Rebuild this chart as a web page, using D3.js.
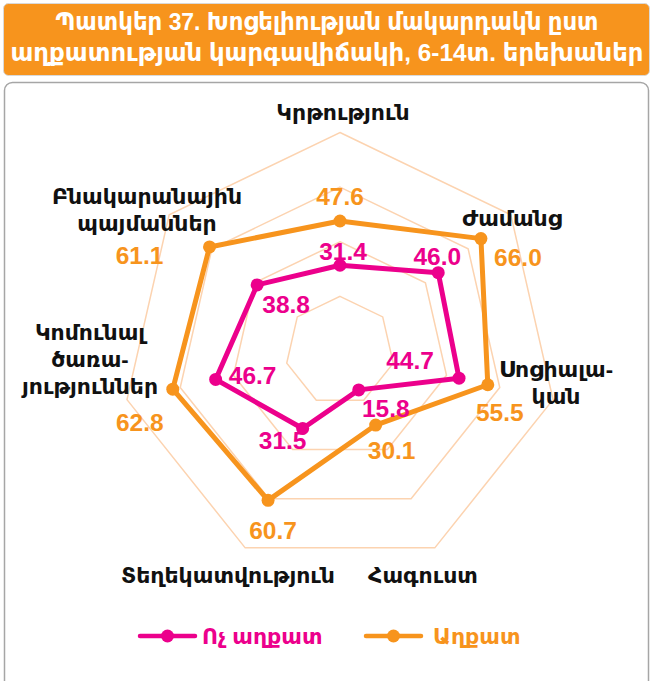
<!DOCTYPE html>
<html>
<head>
<meta charset="utf-8">
<script src="https://cdn.jsdelivr.net/npm/d3@7"></script>
<style>
  html, body { margin: 0; padding: 0; background: #fff; }
  svg { display: block; }
  text { font-family: "Liberation Sans", "DejaVu Sans", Arial, sans-serif; }
</style>
</head>
<body>
<svg id="chart" width="653" height="681"></svg>
<script>
// Axis categories, clockwise from the top
const categories = [
  ["Կրթություն"],
  ["Ժամանց"],
  ["Սոցիալա-", "կան"],
  ["Հագուստ"],
  ["Տեղեկատվություն"],
  ["Կոմունալ", "ծառա-", "յություններ"],
  ["Բնակարանային", "պայմաններ"]
];
const seriesNames = ["Ոչ աղքատ", "Աղքատ"];
const nonPoor = [31.4, 46.0, 44.7, 15.8, 31.5, 46.7, 38.8];
const poor    = [47.6, 66.0, 55.5, 30.1, 60.7, 62.8, 61.1];
const gridTicks = [20, 40, 60, 80];
const titleLines = [
  "Պատկեր 37. Խոցելիության մակարդակն ըստ",
  "աղքատության կարգավիճակի, 6-14տ. երեխաներ"
];

// Layout
const W = 653, H = 681;
const cx = 340, cy = 351, R = 218.5;
const colors = ["#EC008C", "#F7941D"];
const gridColor = "#FCD3B0";

// Axis label anchors (offset from centre)
const catLabelPos = [[3, -239], [172, -133], [216, 18], [83, 224], [-112, 224], [-250, -19], [-193, -155]];
// Value label offsets from their points
const valOffsets = [
  [[3, -14], [-1, -16], [-49, -18], [27, 19], [-20, 12], [37, -4], [29, 20]],
  [[0, -24], [37, 19], [12, 28], [16, 25], [5, 30], [-33, 33], [-70, 9]]
];

const svg = d3.select("#chart");

// Title banner
svg.append("rect").attr("x", 3.5).attr("y", 3.5).attr("width", 646).attr("height", 72)
  .attr("rx", 5).attr("fill", "#F7941D").attr("stroke", "#d9d9d9").attr("stroke-width", 1);
const titleWidths = [543, 633];
titleLines.forEach((t, i) => {
  svg.append("text").attr("x", 327).attr("y", 30 + i * 31)
    .attr("text-anchor", "middle").attr("fill", "#fff")
    .attr("font-size", 24).attr("font-weight", "bold")
    .attr("textLength", titleWidths[i]).attr("lengthAdjust", "spacingAndGlyphs")
    .text(t);
});

// Chart panel
svg.append("rect").attr("x", 4.5).attr("y", 82.5).attr("width", 644).attr("height", 620)
  .attr("rx", 8).attr("fill", "#fff").attr("stroke", "#a6a6a6").attr("stroke-width", 1.5);

const n = categories.length;
const angle = d3.scaleLinear().domain([0, n]).range([0, 2 * Math.PI]);
const r = d3.scaleLinear().domain([0, 80]).range([0, R]);
const pt = (i, v) => [cx + r(v) * Math.sin(angle(i)), cy - r(v) * Math.cos(angle(i))];

// Grid heptagons
const gridLine = d3.line();
gridTicks.forEach(t => {
  const pts = d3.range(n).map(i => pt(i, t));
  svg.append("path").attr("d", gridLine(pts) + "Z")
    .attr("fill", "none").attr("stroke", gridColor).attr("stroke-width", 1.5);
});

// Category labels
categories.forEach((lines, i) => {
  const [dx, dy] = catLabelPos[i];
  const txt = svg.append("text").attr("text-anchor", "middle")
    .attr("font-size", 22).attr("font-weight", "bold").attr("fill", "#111");
  lines.forEach((l, k) => {
    txt.append("tspan").attr("x", cx + dx).attr("y", cy + dy + k * 27)
      .attr("dominant-baseline", "central").text(l);
  });
});

// Series
[nonPoor, poor].forEach((vals, s) => {
  const pts = vals.map((v, i) => pt(i, v));
  svg.append("path").attr("d", d3.line()(pts) + "Z")
    .attr("fill", "none").attr("stroke", colors[s]).attr("stroke-width", 5)
    .attr("stroke-linejoin", "round");
  svg.selectAll(null).data(pts).enter().append("circle")
    .attr("cx", d => d[0]).attr("cy", d => d[1]).attr("r", 6.5).attr("fill", colors[s]);
});

// Value labels
[nonPoor, poor].forEach((vals, s) => {
  vals.forEach((v, i) => {
    const [x, y] = pt(i, v);
    const [dx, dy] = valOffsets[s][i];
    svg.append("text").attr("x", x + dx).attr("y", y + dy)
      .attr("text-anchor", "middle").attr("dominant-baseline", "central")
      .attr("font-size", 24.5).attr("font-weight", "bold").attr("fill", colors[s])
      .text(v.toFixed(1));
  });
});

// Legend
const legend = [[140, 195, 202], [366, 421, 433]];
seriesNames.forEach((name, s) => {
  const [x0, x1, tx] = legend[s];
  const ly = 636;
  svg.append("line").attr("x1", x0).attr("x2", x1).attr("y1", ly).attr("y2", ly)
    .attr("stroke", colors[s]).attr("stroke-width", 4.5).attr("stroke-linecap", "round");
  svg.append("circle").attr("cx", (x0 + x1) / 2).attr("cy", ly).attr("r", 6.5).attr("fill", colors[s]);
  svg.append("text").attr("x", tx).attr("y", ly).attr("dominant-baseline", "central")
    .attr("font-size", 22).attr("font-weight", "bold").attr("fill", colors[s]).text(name);
});
</script>
</body>
</html>
